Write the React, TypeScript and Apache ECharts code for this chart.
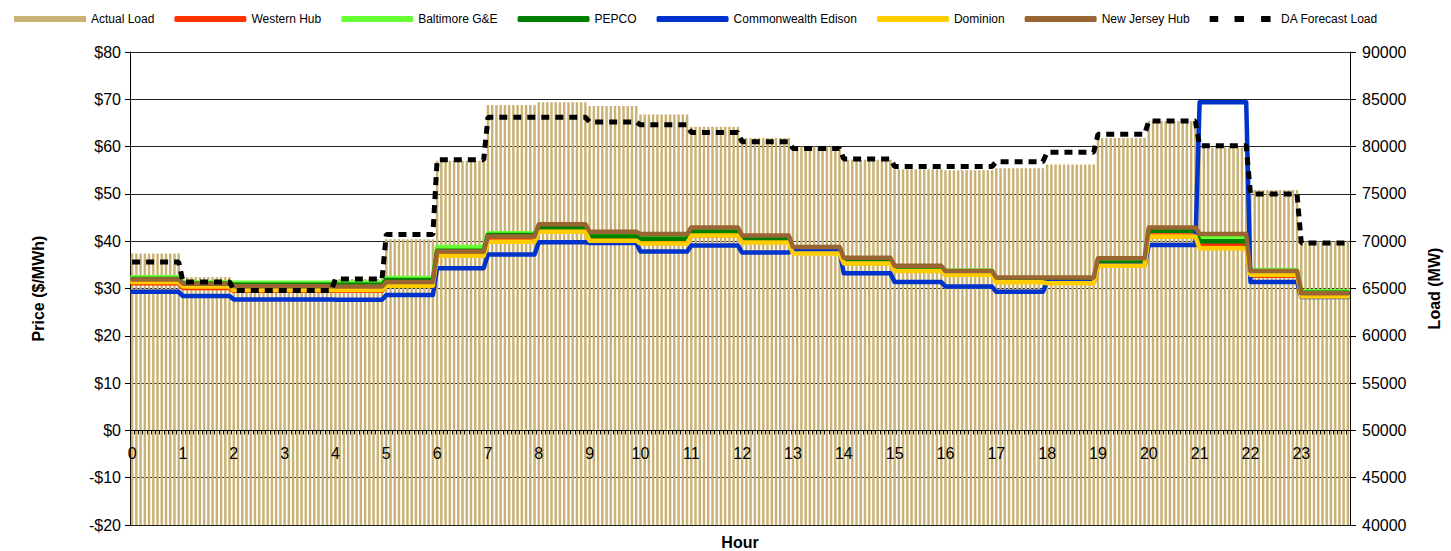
import React, { useEffect, useRef } from "react";
import * as echarts from "echarts";

// Hour tick labels (x axis shows one label per hour; data are 5-minute intervals)
const hourLabels = ["0","1","2","3","4","5","6","7","8","9","10","11","12","13","14","15","16","17","18","19","20","21","22","23"];
const intervalsPerHour = 12;

// Loads (MW), hourly values
const actualLoad = [68700, 66200, 64900, 64700, 66000, 70200, 78500, 84400, 84700, 84300, 83400, 82100, 80900, 80000, 78600, 77600, 77500, 77700, 78100, 80900, 82700, 79900, 75400, 70000];
const daForecastLoad = [67800, 65700, 64800, 64800, 66000, 70700, 78600, 83100, 83100, 82600, 82300, 81500, 80500, 79800, 78700, 77900, 77900, 78400, 79400, 81300, 82700, 80100, 75000, 69800];

// Prices ($/MWh), hourly values
const westernHub = [31.1, 30.1, 29.5, 29.5, 29.5, 30.8, 37.0, 40.3, 42.0, 40.4, 39.8, 41.3, 40.0, 37.8, 35.7, 33.9, 33.0, 31.5, 31.3, 35.0, 41.2, 39.3, 32.7, 28.6];
const baltimore = [32.4, 31.3, 31.2, 31.2, 31.2, 32.2, 38.8, 41.7, 43.2, 41.5, 41.0, 42.4, 40.8, 38.5, 36.2, 34.6, 33.8, 32.1, 32.1, 36.0, 42.5, 40.7, 33.9, 29.4];
const pepco = [32.0, 31.0, 30.8, 30.8, 30.8, 31.8, 38.0, 41.3, 42.9, 41.0, 40.5, 42.0, 40.5, 38.5, 36.2, 34.4, 33.4, 32.0, 32.0, 35.5, 42.2, 40.0, 33.3, 29.1];
const comEd = [29.3, 28.4, 27.7, 27.7, 27.6, 28.6, 34.3, 37.2, 39.8, 39.6, 37.8, 39.1, 37.6, 38.1, 33.2, 31.4, 30.4, 29.3, 31.4, 34.9, 39.2, 69.4, 31.4, 28.2];
const dominion = [31.4, 30.4, 29.7, 29.7, 29.7, 30.6, 36.9, 39.9, 42.0, 40.1, 39.5, 41.2, 39.7, 37.4, 35.3, 33.7, 32.9, 31.3, 31.1, 34.8, 41.0, 38.5, 32.9, 28.3];
const newJerseyHub = [31.9, 31.0, 30.5, 30.5, 30.4, 31.4, 37.8, 41.0, 43.6, 42.0, 41.5, 42.9, 41.2, 38.8, 36.5, 34.8, 33.7, 32.3, 32.3, 36.4, 42.9, 41.5, 33.7, 29.0];

// Axis ranges
const priceMin = -20;
const priceMax = 80;
const loadMin = 40000;
const loadMax = 90000;

const FONT = "'Liberation Sans', Arial, sans-serif";
const DA_ICON = "path://M1,0h10v7h-10z M30,0h11v7h-11z M61,0h11v7h-11z";

const GRID_TOP = 52;
const GRID_BOTTOM = 26;
const CHART_H = 551;

function toIntervals(hourly: number[]): number[] {
  return hourly.flatMap((v) => Array(intervalsPerHour).fill(v));
}

export default function App() {
  const ref = useRef<HTMLDivElement>(null);

  useEffect(() => {
    if (!ref.current) return;
    const chart = echarts.init(ref.current, undefined, { renderer: "svg" });

    const categories = hourLabels.flatMap((h) => Array(intervalsPerHour).fill(h));
    // place the category axis line at price = 0 (the left axis' zero)
    const gridH = CHART_H - GRID_TOP - GRID_BOTTOM;
    const zeroOffset = -gridH * ((0 - priceMin) / (priceMax - priceMin));

    const priceLine = (name: string, data: number[], color: string) => ({
      name,
      type: "line",
      yAxisIndex: 0,
      data: toIntervals(data),
      symbol: "none",
      lineStyle: { color, width: 4.5, join: "round", cap: "round" },
      itemStyle: { color },
      z: 3,
    });

    const option: any = {
      animation: false,
      textStyle: { fontFamily: FONT },
      legend: {
        top: 13,
        left: 14,
        padding: 0,
        itemWidth: 72,
        itemHeight: 6,
        itemGap: 20,
        textStyle: { fontFamily: FONT, fontSize: 12, color: "#000" },
        data: [
          { name: "Actual Load", icon: "rect" },
          { name: "Western Hub", icon: "roundRect" },
          { name: "Baltimore G&E", icon: "roundRect" },
          { name: "PEPCO", icon: "roundRect" },
          { name: "Commonwealth Edison", icon: "roundRect" },
          { name: "Dominion", icon: "roundRect" },
          { name: "New Jersey Hub", icon: "roundRect" },
          { name: "DA Forecast Load", icon: DA_ICON },
        ],
      },
      grid: { left: 130, right: 101, top: GRID_TOP, bottom: GRID_BOTTOM, containLabel: false, outerBoundsMode: "none" },
      xAxis: {
        type: "category",
        data: categories,
        boundaryGap: true,
        position: "bottom",
        offset: zeroOffset,
        z: 5,
        name: "Hour",
        nameLocation: "middle",
        nameGap: 104,
        nameTextStyle: { fontFamily: FONT, fontSize: 16, fontWeight: "bold", color: "#000" },
        axisLine: { onZero: false, lineStyle: { color: "#000", width: 1 } },
        axisTick: { show: true, interval: 0, length: 4, lineStyle: { color: "#000" } },
        axisLabel: { interval: intervalsPerHour - 1, margin: 15, fontSize: 16, color: "#000", fontFamily: FONT },
        splitLine: { show: false },
      },
      yAxis: [
        {
          type: "value",
          min: priceMin,
          max: priceMax,
          interval: 10,
          name: "Price ($/MWh)",
          nameLocation: "middle",
          nameGap: 84,
          nameTextStyle: { fontFamily: FONT, fontSize: 16, fontWeight: "bold", color: "#000" },
          axisLine: { show: true, lineStyle: { color: "#000" } },
          axisTick: { show: true, length: 5, lineStyle: { color: "#000" } },
          axisLabel: {
            fontSize: 16,
            color: "#000",
            margin: 9,
            fontFamily: FONT,
            formatter: (v: number) => (v < 0 ? "-$" + Math.abs(v) : "$" + v),
          },
          splitLine: { show: true, lineStyle: { color: "#222", width: 1 } },
        },
        {
          type: "value",
          min: loadMin,
          max: loadMax,
          interval: 5000,
          position: "right",
          name: "Load (MW)",
          nameLocation: "middle",
          nameGap: 76,
          nameTextStyle: { fontFamily: FONT, fontSize: 16, fontWeight: "bold", color: "#000" },
          axisLine: { show: true, lineStyle: { color: "#000" } },
          axisTick: { show: true, length: 6, lineStyle: { color: "#000" } },
          axisLabel: { fontSize: 16, color: "#000", margin: 12, fontFamily: FONT, formatter: (v: number) => String(v) },
          splitLine: { show: false },
        },
      ],
      series: [
        {
          name: "Actual Load",
          type: "bar",
          yAxisIndex: 1,
          data: toIntervals(actualLoad),
          barCategoryGap: "42%",
          itemStyle: { color: "#C9B273" },
          z: 1,
        },
        priceLine("Western Hub", westernHub, "#FF3300"),
        priceLine("Baltimore G&E", baltimore, "#66FF33"),
        priceLine("PEPCO", pepco, "#007F00"),
        priceLine("Commonwealth Edison", comEd, "#0033CC"),
        priceLine("Dominion", dominion, "#FFCC00"),
        priceLine("New Jersey Hub", newJerseyHub, "#996633"),
        {
          name: "DA Forecast Load",
          type: "line",
          yAxisIndex: 1,
          data: toIntervals(daForecastLoad),
          symbol: "none",
          lineStyle: { color: "#000", width: 5, type: [8, 6] },
          itemStyle: { color: "#000" },
          z: 4,
        },
      ],
    };

    chart.setOption(option);
    return () => chart.dispose();
  }, []);

  return (
    <div
      ref={ref}
      style={{ position: "fixed", left: 0, top: 0, width: 1451, height: 551, background: "#fff" }}
    />
  );
}
